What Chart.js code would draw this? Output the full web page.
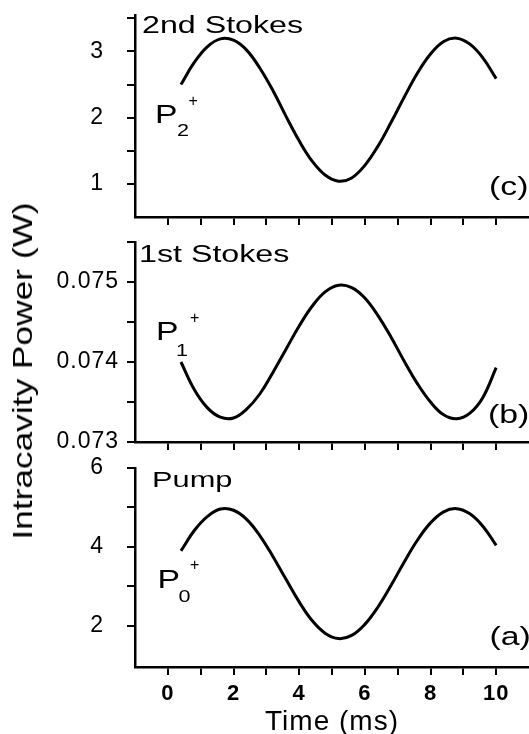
<!DOCTYPE html>
<html>
<head>
<meta charset="utf-8">
<script src="https://cdn.jsdelivr.net/npm/chart.js@4.4.0/dist/chart.umd.min.js"></script>
<style>
    body { margin: 0; background: #fff; }
    #wrap { position: relative; width: 529px; height: 734px; overflow: hidden; }
    canvas { position: absolute; left: 0; }
    #ytitle {
        position: absolute; left: 23px; top: 371px;
        font: 28px "Liberation Sans", Arial, sans-serif; line-height: 1;
        white-space: nowrap; color: #000;
        transform: translate(-50%, -50%) rotate(-90deg) scaleX(1.26);
    }
</style>
</head>
<body>
<div id="wrap">
    <canvas id="stokes2Chart" width="529" height="227" style="top:0px"></canvas>
    <canvas id="stokes1Chart" width="529" height="227" style="top:225px"></canvas>
    <canvas id="pumpChart" width="529" height="284" style="top:450px"></canvas>
    <div id="ytitle">Intracavity Power (W)</div>
</div>
<script>
const timeMs = [0.4, 0.8, 1.2, 1.6, 2.0, 2.4, 2.8, 3.2, 3.6, 4.0, 4.4, 4.8, 5.2,
                5.6, 6.0, 6.4, 6.8, 7.2, 7.6, 8.0, 8.4, 8.8, 9.2, 9.6, 10.0];

const stokes2Power = [2.50, 2.83, 3.07, 3.19, 3.17, 3.02, 2.75, 2.41, 2.02, 1.65, 1.34, 1.13, 1.04,
                      1.09, 1.28, 1.57, 1.93, 2.31, 2.67, 2.96, 3.15, 3.20, 3.11, 2.90, 2.59];

const stokes1Power = [0.07400, 0.07366, 0.07343, 0.07331, 0.07330, 0.07341, 0.07360, 0.07387, 0.07416,
                      0.07445, 0.07470, 0.07488, 0.07496, 0.07493, 0.07480, 0.07458, 0.07431, 0.07401,
                      0.07373, 0.07350, 0.07334, 0.07329, 0.07336, 0.07356, 0.07393];

const pumpPower = [3.90, 4.41, 4.77, 4.96, 4.93, 4.70, 4.29, 3.76, 3.18, 2.61, 2.13, 1.81, 1.68,
                   1.76, 2.04, 2.48, 3.03, 3.62, 4.17, 4.61, 4.89, 4.97, 4.84, 4.52, 4.04];

const timeTicks  = [0, 1, 2, 3, 4, 5, 6, 7, 8, 9, 10];
const timeLabels = [0, 2, 4, 6, 8, 10];

const stokes2Ticks  = [1, 1.5, 2, 2.5, 3, 3.5];
const stokes2Labels = [1, 2, 3];
const stokes1Ticks  = [0.073, 0.0735, 0.074, 0.0745, 0.075, 0.0755];
const stokes1Labels = [0.073, 0.074, 0.075];
const pumpTicks  = [2, 3, 4, 5, 6];
const pumpLabels = [2, 4, 6];

const FONT = '"Liberation Sans", Arial, sans-serif';

function toPoints(xs, ys) {
    return xs.map((x, i) => ({ x: x, y: ys[i] }));
}

function hasLabel(list, v) {
    return list.some(l => Math.abs(l - v) < 1e-9);
}

// panel captions (P_n^+, names, (a)/(b)/(c)) + wider tick lettering
const panelText = {
    id: 'panelText',
    beforeDraw(chart) {
        chart.ctx.letterSpacing = '1px';
    },
    afterDraw(chart, args, opts) {
        const ctx = chart.ctx;
        ctx.save();
        ctx.letterSpacing = '0px';
        ctx.fillStyle = '#000';
        ctx.textAlign = 'left';
        ctx.textBaseline = 'alphabetic';
        opts.items.forEach(t => {
            ctx.font = t.size + 'px ' + FONT;
            ctx.save();
            ctx.translate(t.x, t.y - opts.offset);
            ctx.scale(t.sx, 1);
            ctx.fillText(t.text, 0, 0);
            ctx.restore();
        });
        ctx.restore();
    }
};

function makePanel(canvasId, opt) {
    const bottom = opt.showTime;
    return new Chart(document.getElementById(canvasId), {
        type: 'line',
        data: {
            datasets: [{
                data: toPoints(timeMs, opt.ys),
                borderColor: '#000',
                borderWidth: 3,
                pointRadius: 0,
                fill: false,
                tension: 0.4
            }]
        },
        options: {
            responsive: false,
            animation: false,
            events: [],
            devicePixelRatio: 1,
            layout: { padding: { top: opt.padTop, left: 0, right: 0, bottom: 0 } },
            plugins: {
                legend: { display: false },
                tooltip: { enabled: false },
                panelText: { offset: opt.offset, items: opt.captions }
            },
            scales: {
                x: {
                    type: 'linear',
                    min: -1,
                    max: 11,
                    afterBuildTicks: s => { s.ticks = timeTicks.map(v => ({ value: v })); },
                    afterFit: s => {
                        s.height = bottom ? 67 : 10;
                        s.paddingLeft = 0;
                        s.paddingRight = 0;
                    },
                    border: { display: true, color: '#000', width: 2.5 },
                    grid: {
                        drawOnChartArea: false,
                        drawTicks: true,
                        tickLength: 8,
                        color: '#000',
                        lineWidth: 2
                    },
                    ticks: {
                        display: bottom,
                        autoSkip: false,
                        maxRotation: 0,
                        padding: 6,
                        color: '#000',
                        font: { family: FONT, size: 22, weight: 'bold' },
                        callback: v => hasLabel(timeLabels, v) ? String(v) : ''
                    },
                    title: {
                        display: bottom,
                        text: 'Time (ms)',
                        color: '#000',
                        font: { family: FONT, size: 28, lineHeight: 0.85 },
                        padding: { top: 0, bottom: 0 }
                    }
                },
                y: {
                    type: 'linear',
                    min: opt.min,
                    max: opt.max,
                    afterBuildTicks: s => { s.ticks = opt.ticks.map(v => ({ value: v })); },
                    afterFit: s => {
                        s.width = 135;
                        s.paddingTop = 0;
                        s.paddingBottom = 0;
                    },
                    border: { display: true, color: '#000', width: 2.5 },
                    grid: {
                        drawOnChartArea: false,
                        drawTicks: true,
                        tickLength: 8,
                        color: '#000',
                        lineWidth: 2
                    },
                    ticks: {
                        padding: opt.labelPad,
                        color: '#000',
                        font: { family: FONT, size: 23 },
                        callback: v => hasLabel(opt.labels, v) ? opt.fmt(v) : ''
                    }
                }
            }
        },
        plugins: [panelText]
    });
}

makePanel('stokes2Chart', {
    ys: stokes2Power,
    min: 0.5, max: 3.55,
    ticks: stokes2Ticks, labels: stokes2Labels, fmt: v => String(v), labelPad: 23,
    padTop: 15, offset: 0, showTime: false,
    captions: [
        { text: '2nd Stokes', x: 142, y: 33, size: 23, sx: 1.4 },
        { text: 'P', x: 155, y: 123, size: 25, sx: 1.35 },
        { text: '2', x: 177, y: 135.5, size: 16, sx: 1.35 },
        { text: '+', x: 188.5, y: 106, size: 16, sx: 1 },
        { text: '(c)', x: 489, y: 195, size: 26, sx: 1.3 }
    ]
});

makePanel('stokes1Chart', {
    ys: stokes1Power,
    min: 0.073, max: 0.0755,
    ticks: stokes1Ticks, labels: stokes1Labels, fmt: v => v.toFixed(3), labelPad: 8,
    padTop: 17, offset: 225, showTime: false,
    captions: [
        { text: '1st Stokes', x: 139, y: 262, size: 23, sx: 1.4 },
        { text: 'P', x: 156, y: 340, size: 25, sx: 1.35 },
        { text: '1', x: 176, y: 355.5, size: 16, sx: 1.35 },
        { text: '+', x: 190, y: 323, size: 16, sx: 1 },
        { text: '(b)', x: 488, y: 423, size: 26, sx: 1.3 }
    ]
});

makePanel('pumpChart', {
    ys: pumpPower,
    min: 0.96, max: 6,
    ticks: pumpTicks, labels: pumpLabels, fmt: v => String(v), labelPad: 23,
    padTop: 18, offset: 450, showTime: true,
    captions: [
        { text: 'Pump', x: 152, y: 487, size: 22, sx: 1.4 },
        { text: 'P', x: 157.5, y: 588, size: 25, sx: 1.35 },
        { text: '0', x: 178.5, y: 602, size: 16, sx: 1.35 },
        { text: '+', x: 190, y: 569.5, size: 16, sx: 1 },
        { text: '(a)', x: 489.5, y: 645, size: 26, sx: 1.3 }
    ]
});
</script>
</body>
</html>
